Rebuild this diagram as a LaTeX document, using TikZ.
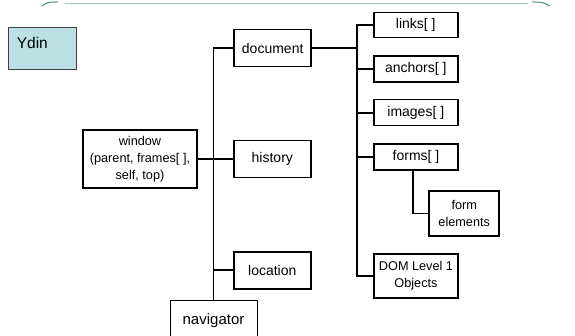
\documentclass[tikz,border=0pt]{standalone}
\usepackage{fontspec}
\setmainfont{Liberation Sans}
\usetikzlibrary{positioning}
\definecolor{ydinfill}{HTML}{BCE0E4}
\definecolor{rulecol}{HTML}{9CC2C4}
\definecolor{curlcol}{HTML}{4E8A80}

\begin{document}
\begin{tikzpicture}[x=1pt, y=-1pt,
    obj/.style={draw, line width=1.6pt, inner sep=2pt, font=\fontsize{14}{17}\selectfont,
      minimum width=77pt, minimum height=37pt},
    smallobj/.style={obj, minimum width=84pt, minimum height=26pt},
    multi/.style={obj, align=center, font=\fontsize{12.7}{17}\selectfont},
    link/.style={line width=1.8pt}]
        \clip (0,0) rectangle (575,336);
        % rule at the top
        \draw[rulecol, line width=0.8pt] (65,3) -- (528,3);
        \draw[curlcol, line width=1pt] (42,6) .. controls (48,2) .. (58,2);
        \draw[curlcol, line width=1pt] (532,2) .. controls (542,2) .. (550,6);
        % title box
        \node (ydin) [draw=black!75, fill=ydinfill, line width=0.8pt, minimum width=68pt, minimum height=42pt] at (42,48.3) {};
        \node (ydintext) [anchor=west, inner sep=0pt, font=\fontsize{15.5}{18}\selectfont] at ([xshift=9pt,yshift=5pt]ydin.west) {Ydin};
        % window
        \node (window) [multi, minimum width=114pt, minimum height=58pt] at (140,159) {window\\(parent, frames[ ],\\self, top)};
        % middle column
        \node (document) [obj] at (272.7,48) {document};
        \node (history) [obj] at (272.3,159) {history};
        \node (location) [obj] at (272.3,270.3) {location};
        \node (navigator) [obj, line width=0.9pt, minimum width=87pt, minimum height=42pt, font=\fontsize{15}{18}\selectfont] at (213.5,321) {navigator};
        % right column
        \node (links) [smallobj, minimum height=25pt] at (415.8,25.2) {links[ ]};
        \node (anchors) [smallobj] at (415.8,68.8) {anchors[ ]};
        \node (images) [smallobj] at (415.8,112.7) {images[ ]};
        \node (forms) [smallobj] at (416,157) {forms[ ]};
        \node (formel) [multi, minimum width=70pt, minimum height=45pt] at (464.2,213.5) {form\\elements};
        \node (dom) [multi, minimum width=84pt, minimum height=44pt] at (416,276) {DOM Level 1\\Objects};

        % Now the lines between the nodes
        \coordinate (rtrunk) at (357.3,0);
        \draw[link] (document.west) -| (navigator.north);
        \draw[link] (window.east) -- (history.west);
        \draw[link] (location.west) -- (location.west -| navigator.north);
        \draw[link] (links.west) -- (links.west -| rtrunk) |- (dom.west);
        \draw[link] (document.east) -- (document.east -| rtrunk);
        \draw[link] (anchors.west) -- (anchors.west -| rtrunk);
        \draw[link] (images.west) -- (images.west -| rtrunk);
        \draw[link] (forms.west) -- (forms.west -| rtrunk);
        \draw[link] ([xshift=-3pt]forms.south) |- (formel.west);
    \end{tikzpicture}
\end{document}
